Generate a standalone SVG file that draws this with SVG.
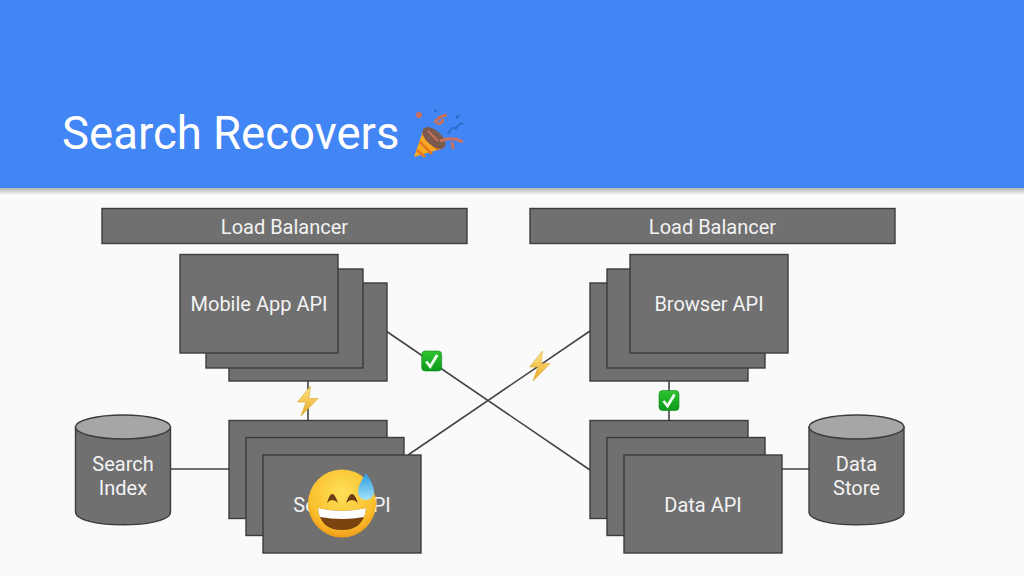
<svg xmlns="http://www.w3.org/2000/svg" width="1024" height="576" viewBox="0 0 1024 576">
<defs>
<style>
.b{fill:#707070;stroke:#3c3c3c;stroke-width:1.4}
.t{font-family:Roboto,"Liberation Sans",sans-serif;font-size:20px;fill:#f3f3f3;text-anchor:middle}
.c{fill:none;stroke:#444;stroke-width:1.6}
.top{fill:#a6a6a6;stroke:#3c3c3c;stroke-width:1.4}
</style>
<linearGradient id="sh" x1="0" y1="0" x2="0" y2="1"><stop offset="0" stop-color="#000" stop-opacity=".28"/><stop offset="1" stop-color="#000" stop-opacity="0"/></linearGradient>
<linearGradient id="bolt" x1="0" y1="0" x2="0" y2="1"><stop offset="0" stop-color="#fde68a"/><stop offset="1" stop-color="#e9a820"/></linearGradient>
<linearGradient id="chk" x1="0" y1="0" x2="0" y2="1"><stop offset="0" stop-color="#2fc42f"/><stop offset="1" stop-color="#0c9a1c"/></linearGradient>
<radialGradient id="face" cx=".5" cy=".35" r=".7"><stop offset="0" stop-color="#fde05a"/><stop offset=".7" stop-color="#fbbf2c"/><stop offset="1" stop-color="#ee8f14"/></radialGradient>
<linearGradient id="drop" x1="0" y1="0" x2="0" y2="1"><stop offset="0" stop-color="#2a9be0"/><stop offset="1" stop-color="#a4e2fb"/></linearGradient>
<path id="bl" d="M2.500 -15 L-10.500 1 L-2 1 L-7 15 L10 -2.500 L1 -2.500 Z" fill="url(#bolt)" stroke="#d9a62a" stroke-width=".6"/>
<g id="ck"><rect x="-10" y="-10" width="20" height="20" rx="3.500" fill="url(#chk)" stroke="#0f8a1c" stroke-width=".6"/><path d="M-5.500 0.500 L-1.500 5.500 L5.500 -6" fill="none" stroke="#f4fff4" stroke-width="2.800"/></g>
</defs>
<rect width="1024" height="576" fill="#fafafa"/>
<rect y="188" width="1024" height="7" fill="url(#sh)"/>
<rect width="1024" height="188" fill="#4285f4"/>
<text x="62" y="149" font-family="Roboto,'Liberation Sans',sans-serif" font-size="45.500" fill="#fff">Search Recovers</text>
<g id="party">
<path d="M414 157 L424 128 L444 148 Z" fill="#f9a825"/>
<path d="M420 142 L432 154 M417 150 L425 157 M423 134 L438 150" stroke="#e8761a" stroke-width="2.500" fill="none"/>
<ellipse cx="434" cy="138" rx="14" ry="7.500" transform="rotate(42 434 138)" fill="#7a5a4c"/>
<path d="M428 131 L438 141" stroke="#c9705f" stroke-width="2" fill="none"/>
<path d="M440 141 Q452 136 463 142 M452 142 L453 149 M435 123 Q438 116 447 115 M437 123 Q442 125 443 119" stroke="#c9705f" stroke-width="3" fill="none"/>
<path d="M448 134 Q452 125 456 129 Q459 122 463 124 M456 118 L459 115 M435 109 L436 112" stroke="#2f6cc8" stroke-width="2" fill="none"/>
<circle cx="419" cy="115" r="3" fill="#c9705f"/>
</g>
<g id="connectors">
<path class="c" d="M308 380V421M669 380V421M170 469H229M782 469H809M386 331L590 470M408 455L590 331"/>
</g>
<g id="lb-left"><rect class="b" x="102" y="208.500" width="365" height="35"/><text class="t" x="284.500" y="234">Load Balancer</text></g>
<g id="lb-right"><rect class="b" x="530" y="208.500" width="365" height="35"/><text class="t" x="712.500" y="234">Load Balancer</text></g>
<g id="mobile-api">
<rect class="b" x="229" y="283" width="158" height="98"/>
<rect class="b" x="206" y="269" width="157" height="99"/>
<rect class="b" x="180" y="254.500" width="158" height="98.500"/>
<text class="t" x="259" y="311">Mobile App API</text>
</g>
<g id="browser-api">
<rect class="b" x="590" y="283" width="158" height="98"/>
<rect class="b" x="607" y="269" width="158" height="99"/>
<rect class="b" x="630" y="254.500" width="158" height="98.500"/>
<text class="t" x="709" y="311">Browser API</text>
</g>
<g id="search-api">
<rect class="b" x="229" y="420.500" width="158" height="98"/>
<rect class="b" x="246" y="437.500" width="158" height="98"/>
<rect class="b" x="263" y="455" width="158" height="98"/>
<text class="t" x="342" y="511.500">Search API</text>
</g>
<g id="data-api">
<rect class="b" x="590" y="420.500" width="158" height="98"/>
<rect class="b" x="607" y="437.500" width="158" height="98"/>
<rect class="b" x="624" y="455" width="158" height="98"/>
<text class="t" x="703" y="511.500">Data API</text>
</g>
<g id="search-index">
<path class="b" d="M75.500 427V512C75.500 529 170.500 529 170.500 512V427Z"/>
<ellipse class="top" cx="123" cy="427" rx="47.500" ry="12"/>
<text class="t" x="123" y="471">Search</text><text class="t" x="123" y="495">Index</text>
</g>
<g id="data-store">
<path class="b" d="M809 427V512C809 529 904 529 904 512V427Z"/>
<ellipse class="top" cx="856.500" cy="427" rx="47.500" ry="12"/>
<text class="t" x="856.500" y="471">Data</text><text class="t" x="856.500" y="495">Store</text>
</g>
<use href="#bl" x="308" y="401"/>
<use href="#bl" x="540" y="366"/>
<use href="#ck" x="431.700" y="361"/>
<use href="#ck" x="669" y="400.500"/>
<g id="sweat-emoji">
<circle cx="342" cy="503.500" r="34" fill="url(#face)"/>
<path d="M327 503Q332 485 338 503Q332 497 327 503ZM346 503Q352 485 358 503Q352 497 346 503Z" fill="#6d3b12"/>
<path d="M318 508Q342 514 366 508Q364 530 342 530Q320 530 318 508Z" fill="#7a4310"/>
<path d="M318 508Q342 514 366 508Q365.500 514 364 517Q342 521 320 517Q318.500 514 318 508Z" fill="#fff"/>
<path d="M366 473Q358 485 358 492A8 8 0 0 0 374 492Q374 485 366 473Z" fill="url(#drop)"/>
</g>
</svg>
